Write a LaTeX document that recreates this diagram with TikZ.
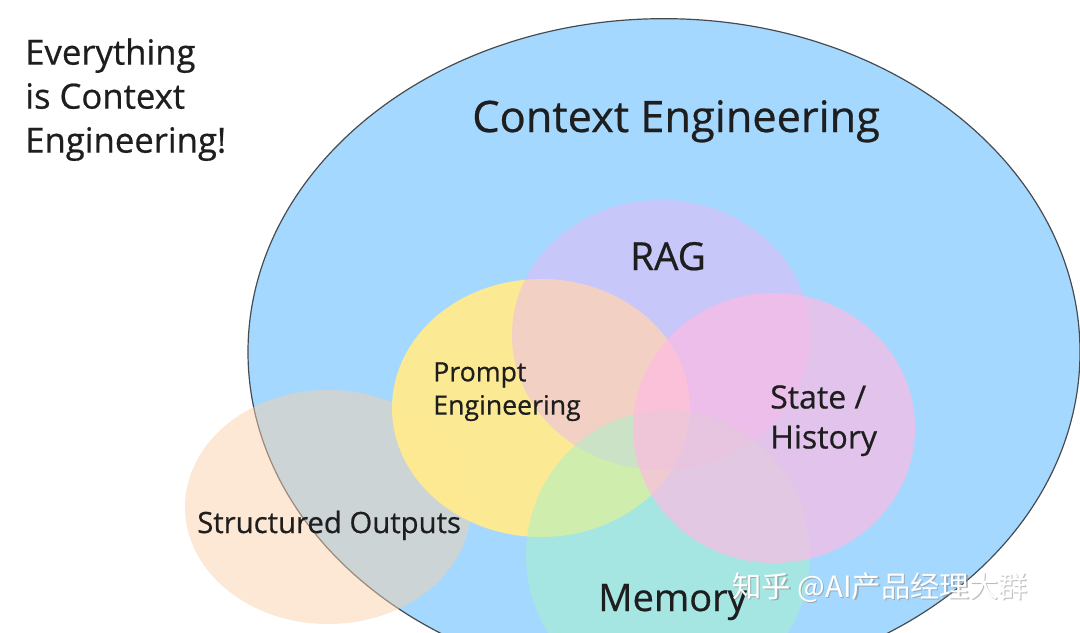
\documentclass[tikz,border=0pt]{standalone}
\usepackage{fontspec}
\setmainfont{Open Sans}[FakeBold=0.6]
\newfontfamily\cjk{Noto Sans CJK SC}
\usetikzlibrary{shapes.geometric}
\definecolor{ceblue}{RGB}{165,216,255}
\definecolor{ceedge}{RGB}{70,75,80}
\definecolor{soc}{RGB}{251,208,168}
\definecolor{prc}{RGB}{255,234,143}
\definecolor{ragc}{RGB}{235,184,245}
\definecolor{memc}{RGB}{165,244,200}
\definecolor{stc}{RGB}{255,186,226}
\definecolor{ink}{RGB}{30,30,30}
\tikzset{
  blob/.style={ellipse, inner sep=0pt, outer sep=0pt},
  lbl/.style={text=ink, inner sep=0pt, anchor=base west},
}
\begin{document}
\begin{tikzpicture}[x=0.75pt,y=-0.75pt]
\useasboundingbox (0,0) rectangle (1080,632);
\fill[white] (0,0) rectangle (1080,632);
\clip (0,0) rectangle (1080,632);
% big ellipse
\node[blob, fill=ceblue, draw=ceedge, line width=0.9pt, minimum width=624pt, minimum height=500pt] (ce) at (664,352) {};
% circles
\node[blob, fill=soc, fill opacity=0.47, minimum width=214.5pt, minimum height=175.5pt] (so) at (328,507) {};
\node[blob, fill=prc, fill opacity=0.96, minimum width=223.5pt, minimum height=193.5pt] (pe) at (541,408) {};
\node[blob, fill=ragc, fill opacity=0.5, minimum width=223.5pt, minimum height=202.5pt] (rag) at (661,335) {};
\node[blob, fill=memc, fill opacity=0.5, minimum width=213pt, minimum height=217.5pt] (mem) at (668,555) {};
\node[blob, fill=stc, fill opacity=0.68, minimum width=211.5pt, minimum height=202.5pt] (st) at (774,428) {};
% labels
\node[lbl, font=\fontsize{26}{33}\selectfont, align=left, anchor=north west] (tl) at (25,38) {Everything\\is Context\\Engineering!};
\node[lbl, font=\fontsize{32.5}{36}\selectfont] (tce) at (472,132) {Context Engineering};
\node[lbl, font=\fontsize{29}{32}\selectfont, anchor=base] (trag) at (668,270) {RAG};
\node[lbl, font=\fontsize{20}{25}\selectfont, align=left, anchor=north west] (tpe) at (433,362) {Prompt\\Engineering};
\node[lbl, font=\fontsize{24}{30}\selectfont, align=left, anchor=north west] (tst) at (770,385) {State /\\History};
\node[lbl, font=\fontsize{22}{26}\selectfont] (tso) at (197,533) {Structured Outputs};
\node[lbl, font=\fontsize{28.5}{32}\selectfont] (tmem) at (598,611) {Memory};
% watermark
\node[lbl, font=\cjk\fontsize{22}{26}\selectfont, text=black!45, opacity=0.6] (wms) at (733.5,598.5) {知乎 @AI产品经理大群};
\node[lbl, font=\cjk\fontsize{22}{26}\selectfont, text=white] (wm) at (732,597) {知乎 @AI产品经理大群};
\end{tikzpicture}
\end{document}
